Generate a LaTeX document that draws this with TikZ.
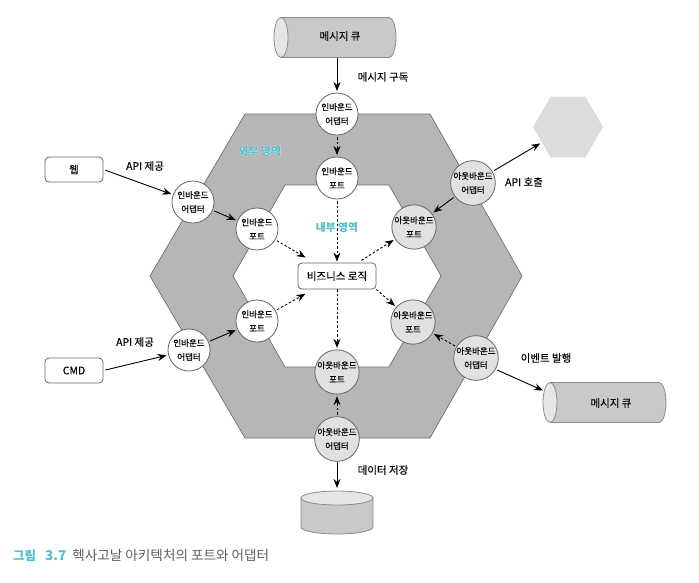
\documentclass[tikz,border=0pt]{standalone}
\usepackage{fontspec}
\setmainfont{Noto Sans CJK KR}[FakeBold=0.25]
\newfontfamily\capfont{Noto Sans CJK KR}
\newfontfamily\halofont{Noto Sans CJK KR}[FakeBold=1.2]
\newcommand\zonefont{\capfont\bfseries}
\usetikzlibrary{arrows.meta,shapes.geometric,calc}
\definecolor{hexgray}{HTML}{B5B6B5}
\definecolor{hexline}{HTML}{6E6F6E}
\definecolor{outcirc}{HTML}{E0E1E0}
\definecolor{cylbody}{HTML}{C8CAC8}
\definecolor{cylend}{HTML}{E6E6E6}
\definecolor{cylline}{HTML}{8A8C8A}
\definecolor{exthex}{HTML}{DBDDDB}
\definecolor{tealc}{HTML}{4FBFCC}
\definecolor{capgray}{HTML}{5F5F5F}
\newcommand\halotext[1]{\rlap{\halofont\bfseries\color{white}#1}{\zonefont\color{tealc}#1}}
\newcommand\hcyl[1]{%
  \draw[cylline,line width=.8pt,fill=cylbody]
    (#1.north west) -- (#1.north east)
    .. controls +(3.9,0) and ($(#1.east)+(7,-11)$) .. ($(#1.east)+(7,0)$)
    .. controls ($(#1.east)+(7,11)$) and ($(#1.south east)+(3.9,0)$) .. (#1.south east)
    -- (#1.south west) -- cycle;
  \draw[cylline,line width=.8pt,fill=cylend]
    (#1.north west)
    .. controls +(3.9,0) and ($(#1.west)+(7,-11)$) .. ($(#1.west)+(7,0)$)
    .. controls ($(#1.west)+(7,11)$) and ($(#1.south west)+(3.9,0)$) .. (#1.south west)
    .. controls +(-3.9,0) and ($(#1.west)+(-7,11)$) .. ($(#1.west)+(-7,0)$)
    .. controls ($(#1.west)+(-7,-11)$) and ($(#1.north west)+(-3.9,0)$) .. (#1.north west) -- cycle;
}
\tikzset{
  x=1pt,y=-1pt,
  circbase/.style={circle,draw=black!60,line width=.8pt,minimum size=42pt,inner sep=0pt,outer sep=0pt,align=center,font=\fontsize{8.5}{14}\selectfont},
  inbound/.style={circbase,fill=white},
  outbound/.style={circbase,fill=outcirc},
  clientbox/.style={draw=black!60,line width=.8pt,rounded corners=4pt,fill=white,minimum width=58pt,minimum height=25pt,inner sep=0pt,font=\fontsize{10.5}{12}\selectfont},
  queue/.style={inner sep=0pt,outer sep=0pt,minimum height=40pt,font=\fontsize{10.5}{12}\selectfont},
  store/.style={inner sep=0pt,outer sep=0pt,minimum width=72pt,minimum height=29pt},
  lbl/.style={font=\fontsize{10.5}{12}\selectfont,inner sep=0pt},
  zone/.style={font=\fontsize{10.8}{12}\selectfont,text=tealc,inner sep=0pt},
  solidarrow/.style={-{Stealth[length=9pt,width=7pt]},line width=.9pt,shorten >=2pt,shorten <=2pt},
  dasharrow/.style={solidarrow,dash pattern=on 2.5pt off 2pt},
}
\begin{document}
\begin{tikzpicture}
\useasboundingbox (0,0) rectangle (699,582);
% hexagons
\fill[hexgray] (245,114)--(430,114)--(522,276)--(430,438)--(245,438)--(150,276)--cycle;
\draw[hexline,line width=.7pt] (245,114)--(430,114)--(522,276)--(430,438)--(245,438)--(150,276)--cycle;
\draw[hexline,line width=.7pt,fill=white] (285,185)--(389,185)--(441,276)--(389,367)--(285,367)--(233,276)--cycle;
\node[regular polygon,regular polygon sides=6,minimum size=70pt,inner sep=0pt,outer sep=0pt,fill=exthex] (ext) at (568,127) {};
% zone labels
\node[zone] (outerz) at (260,151) {\halotext{외부 영역}};
\node[zone] (innerz) at (337,227) {{\zonefont 내부 영역}};
% queues and store
\path (335,37.5) node[queue,minimum width=108pt] (q1) {};
\hcyl{q1}
\node[lbl] (q1t) at (340,36) {메시지 큐};
\path (604.5,402.5) node[queue,minimum width=109pt] (q2) {};
\hcyl{q2}
\node[lbl] (q2t) at (611,403) {메시지 큐};
\node[store] (db) at (337,512.5) {};
\draw[cylline,line width=.8pt,fill=cylbody]
  (db.north west) -- (db.south west)
  .. controls +(0,3.9) and ($(db.south)+(-19.9,7)$) .. ($(db.south)+(0,7)$)
  .. controls ($(db.south)+(19.9,7)$) and ($(db.south east)+(0,3.9)$) .. (db.south east)
  -- (db.north east) -- cycle;
\draw[cylline,line width=.8pt,fill=cylend]
  (db.north west)
  .. controls +(0,-3.9) and ($(db.north)+(-19.9,-7)$) .. ($(db.north)+(0,-7)$)
  .. controls ($(db.north)+(19.9,-7)$) and ($(db.north east)+(0,-3.9)$) .. (db.north east)
  .. controls +(0,3.9) and ($(db.north)+(19.9,7)$) .. ($(db.north)+(0,7)$)
  .. controls ($(db.north)+(-19.9,7)$) and ($(db.north west)+(0,3.9)$) .. (db.north west) -- cycle;
% clients
\node[clientbox] (web) at (74,169.5) {웹};
\node[clientbox] (cmd) at (74,370.5) {CMD};
% logic
\node[draw=black!60,line width=.8pt,rounded corners=4pt,fill=white,minimum width=78pt,minimum height=26pt,inner sep=0pt,font=\fontsize{10.5}{12}\selectfont] (biz) at (337,276) {비즈니스 로직};
% adapters and ports
\node[inbound] (ia1) at (337,114) {인바운드\\어댑터};
\node[inbound] (ip1) at (337,178) {인바운드\\포트};
\node[inbound] (ia2) at (193,202) {인바운드\\어댑터};
\node[inbound] (ip2) at (257,229) {인바운드\\포트};
\node[inbound] (ia3) at (189,350) {인바운드\\어댑터};
\node[inbound] (ip3) at (257,321) {인바운드\\포트};
\node[outbound] (oa1) at (473,183) {아웃바운드\\어댑터};
\node[outbound] (op1) at (414,227) {아웃바운드\\포트};
\node[outbound] (oa2) at (476,358) {아웃바운드\\어댑터};
\node[outbound] (op2) at (413,322) {아웃바운드\\포트};
\node[outbound] (oa3) at (337,439) {아웃바운드\\어댑터};
\node[outbound] (op3) at (337,372) {아웃바운드\\포트};
% connectors
\coordinate (q2in) at (543,390.5);
\draw[solidarrow,shorten <=0pt] (q1.south -| ia1) -- (ia1);
\draw[dasharrow] (ia1) -- (ip1);
\draw[dasharrow,shorten >=1pt] (ip1) -- (biz);
\draw[dasharrow,shorten <=0pt] (biz) -- (op3);
\draw[dasharrow] (oa3) -- (op3);
\draw[solidarrow,shorten >=10pt,shorten <=1pt] (oa3) -- (db.north);
\draw[solidarrow] (web.east) -- (ia2);
\draw[solidarrow] (ia2) -- (ip2);
\draw[solidarrow] (cmd.east) -- (ia3);
\draw[solidarrow] (ia3) -- (ip3);
\draw[dasharrow,shorten >=10pt] (ip2) -- (biz);
\draw[dasharrow,shorten >=9pt] (ip3) -- (biz);
\draw[dasharrow,shorten <=4pt] (biz) -- (op1);
\draw[dasharrow,shorten <=0pt] (biz.south east) -- (op2);
\draw[solidarrow] (oa1) -- (ext);
\draw[solidarrow] (oa1) -- (op1);
\draw[dasharrow] (oa2) -- (op2);
\draw[solidarrow,shorten >=0pt] (oa2.-30) -- (q2in);
% labels
\node[lbl] (l1) at (383,77) {메시지 구독};
\node[lbl] (l2) at (145,166) {API 제공};
\node[lbl] (l3) at (135,342) {API 제공};
\node[lbl] (l4) at (524,182) {API 호출};
\node[lbl] (l5) at (546,358) {이벤트 발행};
\node[lbl] (l6) at (383,470) {데이터 저장};
% caption
\node[anchor=west,inner sep=0pt,text=capgray] (cap) at (13,555) {\capfont\fontsize{12.5}{14}\selectfont\textcolor{tealc}{\textbf{그림}\hspace{9pt}{\fontsize{13.5}{14}\selectfont\textbf{3.7}}}\hspace{6pt}{\fontsize{13.6}{14}\selectfont 헥사고날 아키텍처의 포트와 어댑터}};
\end{tikzpicture}
\end{document}
